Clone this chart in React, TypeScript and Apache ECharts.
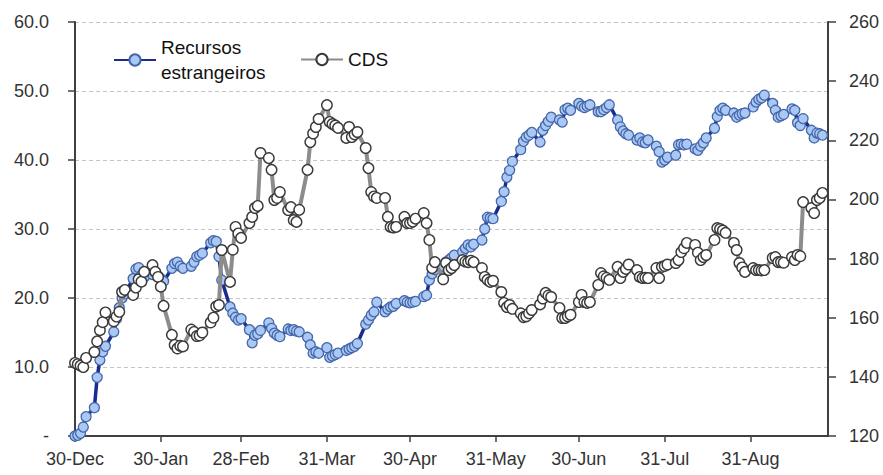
import React, { useEffect, useRef } from "react";
import * as echarts from "echarts";

// Business days (Mon-Fri) counted in calendar days from 30-Dec; 39 weeks
const weeks = 39;
const dayOffsets: number[] = [];
for (let w = 0; w < weeks; w++) for (let d = 0; d < 5; d++) dayOffsets.push(7 * w + d);

// X-axis tick positions (days from 30-Dec) and their labels
const tickDays = [0, 31, 60, 91, 121, 152, 182, 213, 244];
const tickLabels = ["30-Dec", "30-Jan", "28-Feb", "31-Mar", "30-Apr", "31-May", "30-Jun", "31-Jul", "31-Aug"];

// Recursos estrangeiros (left axis)
const recursos = [
  0, 0.1, 0.4, 1.3, 2.8,
  4.1, 8.5, 11.0, 12.2, 13.0,
  15.1, 17.0, 18.6, 20.0, 20.6,
  22.8, 24.2, 24.4, 23.3, 23.0,
  23.4, 23.8, 23.2, 22.8, 22.4,
  24.3, 25.0, 25.2, 24.6, 24.3,
  24.6, 25.2, 26.0, 26.2, 26.5,
  28.0, 28.3, 28.2, 26.0, 22.6,
  18.7, 17.8, 17.2, 16.8, 17.0,
  15.4, 13.5, 14.6, 14.8, 15.3,
  16.4, 15.6, 14.9, 14.6, 14.4,
  15.5, 15.3, 15.4, 15.2, 15.1,
  14.3, 13.2, 12.0, 12.2, 12.0,
  12.8, 11.4, 11.6, 11.8, 12.0,
  12.4, 12.6, 12.8, 13.0, 13.4,
  16.2, 16.8, 17.5, 18.0, 19.4,
  18.0, 18.4, 18.7, 18.8, 19.2,
  19.6, 19.4, 19.3, 19.4, 19.5,
  20.2, 20.4, 22.6, 23.5, 24.1,
  24.6, 25.2, 25.5, 25.8, 26.2,
  26.7, 27.2, 27.7, 27.4, 27.8,
  28.4, 30.0, 31.7, 31.6, 31.5,
  34.0, 35.4, 37.5, 38.5, 39.8,
  41.5, 42.7, 43.3, 43.6, 44.0,
  42.6, 44.3, 45.0, 45.6, 46.2,
  45.8, 45.5, 47.3, 47.5, 47.2,
  48.2, 47.8, 47.6, 47.8, 48.0,
  47.0, 47.0, 47.3, 47.6, 48.0,
  45.8, 44.8, 44.2, 43.8, 43.6,
  42.9, 43.2, 42.6, 42.5, 42.9,
  42.0, 41.2, 39.7, 40.0, 40.4,
  40.7, 42.2, 42.3, 42.2, 42.3,
  41.6, 41.4, 42.0, 42.5, 43.2,
  44.6, 46.3, 47.2, 47.5, 47.2,
  46.8, 46.2, 46.5, 46.7, 46.8,
  47.7, 48.4, 48.8, 49.0, 49.4,
  48.2, 47.2, 46.2, 46.4, 46.6,
  47.4, 47.2, 45.4, 45.0, 46.0,
  44.3, 43.2, 43.9, 43.8, 43.6,
];

// CDS (right axis)
const cds = [
  144.7, 144.3, 143.8, 143.3, 146.4,
  148.4, 152.0, 155.8, 158.5, 161.8,
  158.8, 160.4, 162.0, 168.7, 169.4,
  167.7, 170.2, 173.0, 172.2, 175.5,
  177.8, 175.5, 173.8, 170.5, 164.0,
  154.2, 150.8, 149.6, 150.5, 150.3,
  156.0, 155.2, 153.8, 154.0, 155.0,
  158.4, 160.0, 163.8, 164.3, 182.9,
  172.1, 183.0, 190.7, 188.5, 187.0,
  192.0, 194.1, 197.1, 197.8, 215.7,
  214.0, 210.0, 199.8, 200.5, 202.5,
  196.4, 197.4, 193.0, 192.4, 196.5,
  210.0, 219.4, 222.3, 224.5, 227.2,
  231.9, 226.2, 225.5, 225.0, 224.2,
  220.8, 224.5, 221.1, 222.0, 222.8,
  217.4, 210.6, 202.5, 201.0, 200.5,
  200.5, 194.1, 190.7, 190.5, 190.7,
  194.1, 192.0, 192.0, 192.5, 193.5,
  195.4, 192.0, 186.3, 176.8, 178.8,
  173.0, 178.5, 176.1, 176.8, 177.8,
  179.5, 179.0, 178.8, 179.3, 178.8,
  176.8, 173.8, 172.8, 172.1, 172.5,
  168.7, 165.0, 163.6, 164.3, 163.0,
  161.5, 160.2, 160.5, 161.5, 162.6,
  164.5, 166.5, 168.4, 167.5, 167.0,
  163.3, 159.9, 159.9, 160.5, 161.0,
  165.3, 167.7, 165.3, 165.0, 165.3,
  171.1, 175.1, 174.0, 173.5, 172.8,
  177.2, 173.4, 175.5, 176.5, 178.0,
  176.1, 173.8, 173.4, 173.5, 173.4,
  176.8, 173.4, 177.2, 177.5, 178.0,
  178.5, 179.5, 182.2, 183.5, 185.3,
  184.6, 182.0, 179.5, 180.5, 181.2,
  186.3, 190.3, 190.0, 189.5, 188.7,
  185.3, 182.9, 178.5, 177.0, 175.5,
  176.8, 176.1, 176.1, 176.0, 176.1,
  180.2, 180.5, 178.8, 178.8, 178.6,
  180.5, 179.5, 181.2, 180.8, 199.1,
  197.1, 195.4, 199.8, 200.5, 202.2,
];

const seriesNames = ["Recursos estrangeiros", "CDS"];
const FONT = "'Liberation Sans', Arial, sans-serif";
const AXIS_COLOR = "#404040";
const LABEL_COLOR = "#333333";

export default function App() {
  const ref = useRef<HTMLDivElement>(null);

  useEffect(() => {
    if (!ref.current) return;
    const chart = echarts.init(ref.current, undefined, { renderer: "svg" });
    const labelMap: Record<number, string> = {};
    tickDays.forEach((d, i) => (labelMap[d] = tickLabels[i]));

    chart.setOption({
      animation: false,
      backgroundColor: "#ffffff",
      textStyle: { fontFamily: FONT },
      grid: { left: 75, right: 55, top: 22, bottom: 39, containLabel: false },
      legend: [
        {
          data: [seriesNames[0]],
          left: 113,
          top: 35,
          padding: 0,
          itemWidth: 42,
          itemHeight: 14,
          formatter: () => "Recursos\nestrangeiros",
          textStyle: { fontSize: 19, lineHeight: 25, color: "#111", fontFamily: FONT },
        },
        {
          data: [seriesNames[1]],
          left: 300,
          top: 47,
          padding: 0,
          itemWidth: 42,
          itemHeight: 14,
          textStyle: { fontSize: 19, lineHeight: 25, color: "#111", fontFamily: FONT },
        },
      ],
      xAxis: {
        type: "value",
        min: 0,
        max: 272,
        splitLine: { show: false },
        axisLine: { show: true, onZero: false, lineStyle: { color: AXIS_COLOR, width: 2 } },
        axisTick: { show: true, length: 6, customValues: tickDays, lineStyle: { color: AXIS_COLOR, width: 1.5 } },
        axisLabel: {
          customValues: tickDays,
          formatter: (v: number) => labelMap[v] ?? "",
          fontSize: 18,
          color: LABEL_COLOR,
          margin: 14,
          fontFamily: FONT,
        },
      },
      yAxis: [
        {
          type: "value",
          min: 0,
          max: 60,
          interval: 10,
          axisLine: { show: true, lineStyle: { color: AXIS_COLOR, width: 2 } },
          axisTick: { show: true, length: 7, lineStyle: { color: AXIS_COLOR, width: 1.5 } },
          axisLabel: {
            formatter: (v: number) => (v === 0 ? "-" : v.toFixed(1)),
            fontSize: 18,
            color: LABEL_COLOR,
            margin: 26,
            fontFamily: FONT,
          },
          splitLine: { show: true, lineStyle: { color: "#c4c4c4", type: [4, 3], width: 1 } },
        },
        {
          type: "value",
          min: 120,
          max: 260,
          interval: 20,
          position: "right",
          axisLine: { show: true, lineStyle: { color: AXIS_COLOR, width: 2 } },
          axisTick: { show: true, length: 8, lineStyle: { color: AXIS_COLOR, width: 1.5 } },
          axisLabel: { fontSize: 18, color: LABEL_COLOR, margin: 21, fontFamily: FONT },
          splitLine: { show: false },
        },
      ],
      series: [
        {
          name: seriesNames[0],
          type: "line",
          yAxisIndex: 0,
          data: recursos.map((v, i) => [dayOffsets[i], v]),
          symbol: "circle",
          symbolSize: 10,
          showSymbol: true,
          lineStyle: { color: "#1a2c8c", width: 3.5 },
          itemStyle: { color: "#a9c9f4", borderColor: "#4466aa", borderWidth: 1.3 },
          z: 2,
        },
        {
          name: seriesNames[1],
          type: "line",
          yAxisIndex: 1,
          data: cds.map((v, i) => [dayOffsets[i], v]),
          symbol: "circle",
          symbolSize: 10.5,
          showSymbol: true,
          lineStyle: { color: "#8c8c8c", width: 4 },
          itemStyle: { color: "#ffffff", borderColor: "#3a3a3a", borderWidth: 1.4 },
          z: 3,
        },
      ],
    });

    return () => chart.dispose();
  }, []);

  return (
    <div
      ref={ref}
      style={{ position: "fixed", left: 0, top: 0, width: 883, height: 475, background: "#fff" }}
    />
  );
}
